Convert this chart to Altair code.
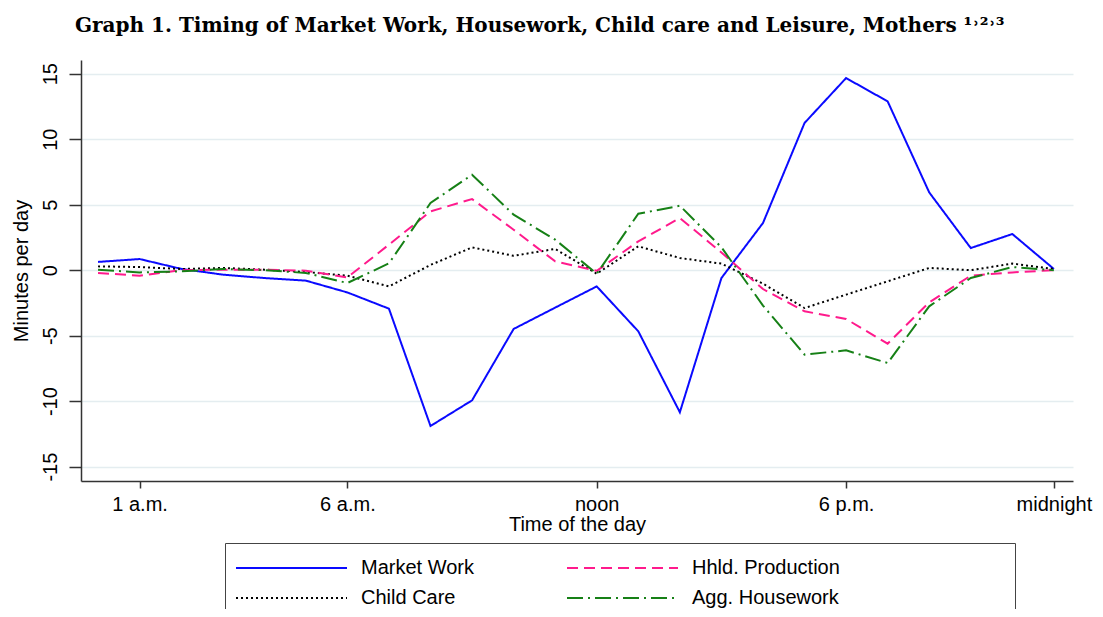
import altair as alt
import pandas as pd

hours = list(range(1, 25))
market_work = [0.63, 0.85, 0.1, -0.34, -0.6, -0.8, -1.7, -2.94, -11.9, -9.94, -4.49, -2.86,
               -1.24, -4.67, -10.85, -0.6, 3.6, 11.24, 14.67, 12.89, 5.94, 1.69, 2.76, 0.09]
hhld_production = [-0.21, -0.42, 0.0, 0.04, 0.04, -0.04, -0.55, 1.95, 4.49, 5.43, 3.09, 0.67,
                   -0.05, 2.2, 3.98, 1.35, -1.44, -3.14, -3.73, -5.61, -2.46, -0.42, -0.17, 0.0]
child_care = [0.29, 0.24, 0.09, 0.17, 0.04, -0.14, -0.42, -1.24, 0.4, 1.74, 1.1, 1.62,
              -0.27, 1.82, 0.93, 0.5, -1.03, -2.89, -1.87, -0.85, 0.17, 0.0, 0.5, 0.09]
agg_housework = [0.04, -0.17, -0.09, 0.09, 0.0, -0.21, -0.98, 0.52, 5.13, 7.29, 4.24, 2.33,
                 -0.27, 4.31, 4.92, 1.75, -2.7, -6.45, -6.12, -7.09, -2.76, -0.6, 0.24, 0.0]

# legend order (column-major grid: first column, then second column)
series_names = ["Market Work", "Child Care", "Hhld. Production", "Agg. Housework"]
series_values = [market_work, child_care, hhld_production, agg_housework]
series_colors = ["#0a0aff", "#000000", "#ff1a8c", "#168016"]
series_dashes = [[1, 0], [2, 3], [11, 6], [16, 5, 2, 5]]

tick_values = [2, 7, 13, 19, 24]
tick_labels = ["1 a.m.", "6 a.m.", "noon", "6 p.m.", "midnight"]
y_ticks = [-15, -10, -5, 0, 5, 10, 15]

rows = []
for name, vals in zip(series_names, series_values):
    for h, v in zip(hours, vals):
        rows.append({"hour": h, "minutes": v, "series": name})
df = pd.DataFrame(rows)

x_label_expr = " : ".join(
    f"datum.value == {v} ? '{l}'" for v, l in zip(tick_values, tick_labels)
) + " : ''"

blank_pad = "\u2800" * 11
legend_label_expr = (
    f"datum.label == 'Hhld. Production' ? 'Hhld. Production{blank_pad}' : datum.label"
)

FONT = "Liberation Sans"


def make_legend():
    return alt.Legend(
        title=None,
        orient="none",
        legendX=144,
        legendY=483,
        columns=2,
        symbolType="stroke",
        symbolSize=12321,
        symbolStrokeWidth=1.8,
        clipHeight=30,
        labelOffset=13,
        columnPadding=92,
        rowPadding=0,
        padding=10,
        strokeColor="#444444",
        fillColor="white",
        labelFont=FONT,
        labelFontSize=20,
        labelColor="black",
        labelLimit=1000,
        labelExpr=legend_label_expr,
    )


chart = (
    alt.Chart(df)
    .mark_line(strokeWidth=2)
    .encode(
        x=alt.X(
            "hour:Q",
            scale=alt.Scale(domain=[0.59, 24.46], nice=False, zero=False),
            axis=alt.Axis(
                title="Time of the day",
                values=tick_values,
                labelExpr=x_label_expr,
                grid=False,
                tickSize=7,
                labelPadding=6,
                titlePadding=0,
                labelFontSize=20,
                titleFontSize=20,
                labelFlush=False,
            ),
        ),
        y=alt.Y(
            "minutes:Q",
            scale=alt.Scale(domain=[-16.1, 16.05], nice=False, zero=False),
            axis=alt.Axis(
                title="Minutes per day",
                values=y_ticks,
                labelExpr="'' + datum.value",
                grid=True,
                gridColor="#e4edf0",
                gridWidth=1.5,
                tickSize=12,
                labelAngle=-90,
                labelAlign="center",
                labelBaseline="middle",
                labelPadding=19,
                titlePadding=9,
                labelFontSize=20,
                titleFontSize=20,
            ),
        ),
        color=alt.Color(
            "series:N",
            scale=alt.Scale(domain=series_names, range=series_colors),
            legend=make_legend(),
        ),
        strokeDash=alt.StrokeDash(
            "series:N",
            scale=alt.Scale(domain=series_names, range=series_dashes),
            legend=make_legend(),
        ),
        order="hour:Q",
    )
    .properties(
        width=992,
        height=421,
        autosize=alt.AutoSizeParams(type="none"),
        padding={"left": 73, "top": 52, "right": 22, "bottom": 128},
        title=alt.Title(
            text="Graph 1. Timing of Market Work, Housework, Child care and Leisure, Mothers \u00b9\u02d2\u00b2\u02d2\u00b3",
            font="DejaVu Serif",
            fontSize=20,
            fontWeight="bold",
            color="black",
            anchor="start",
            frame="group",
            dx=-6,
            offset=24,
        ),
    )
    .configure_view(stroke=None)
    .configure_axis(
        labelFont=FONT,
        titleFont=FONT,
        titleFontWeight="normal",
        labelColor="black",
        titleColor="black",
        domainColor="#333333",
        tickColor="#333333",
        domainWidth=1.5,
        tickWidth=1.5,
    )
)

chart.save("out.html", embed_options={"renderer": "svg", "actions": False})
